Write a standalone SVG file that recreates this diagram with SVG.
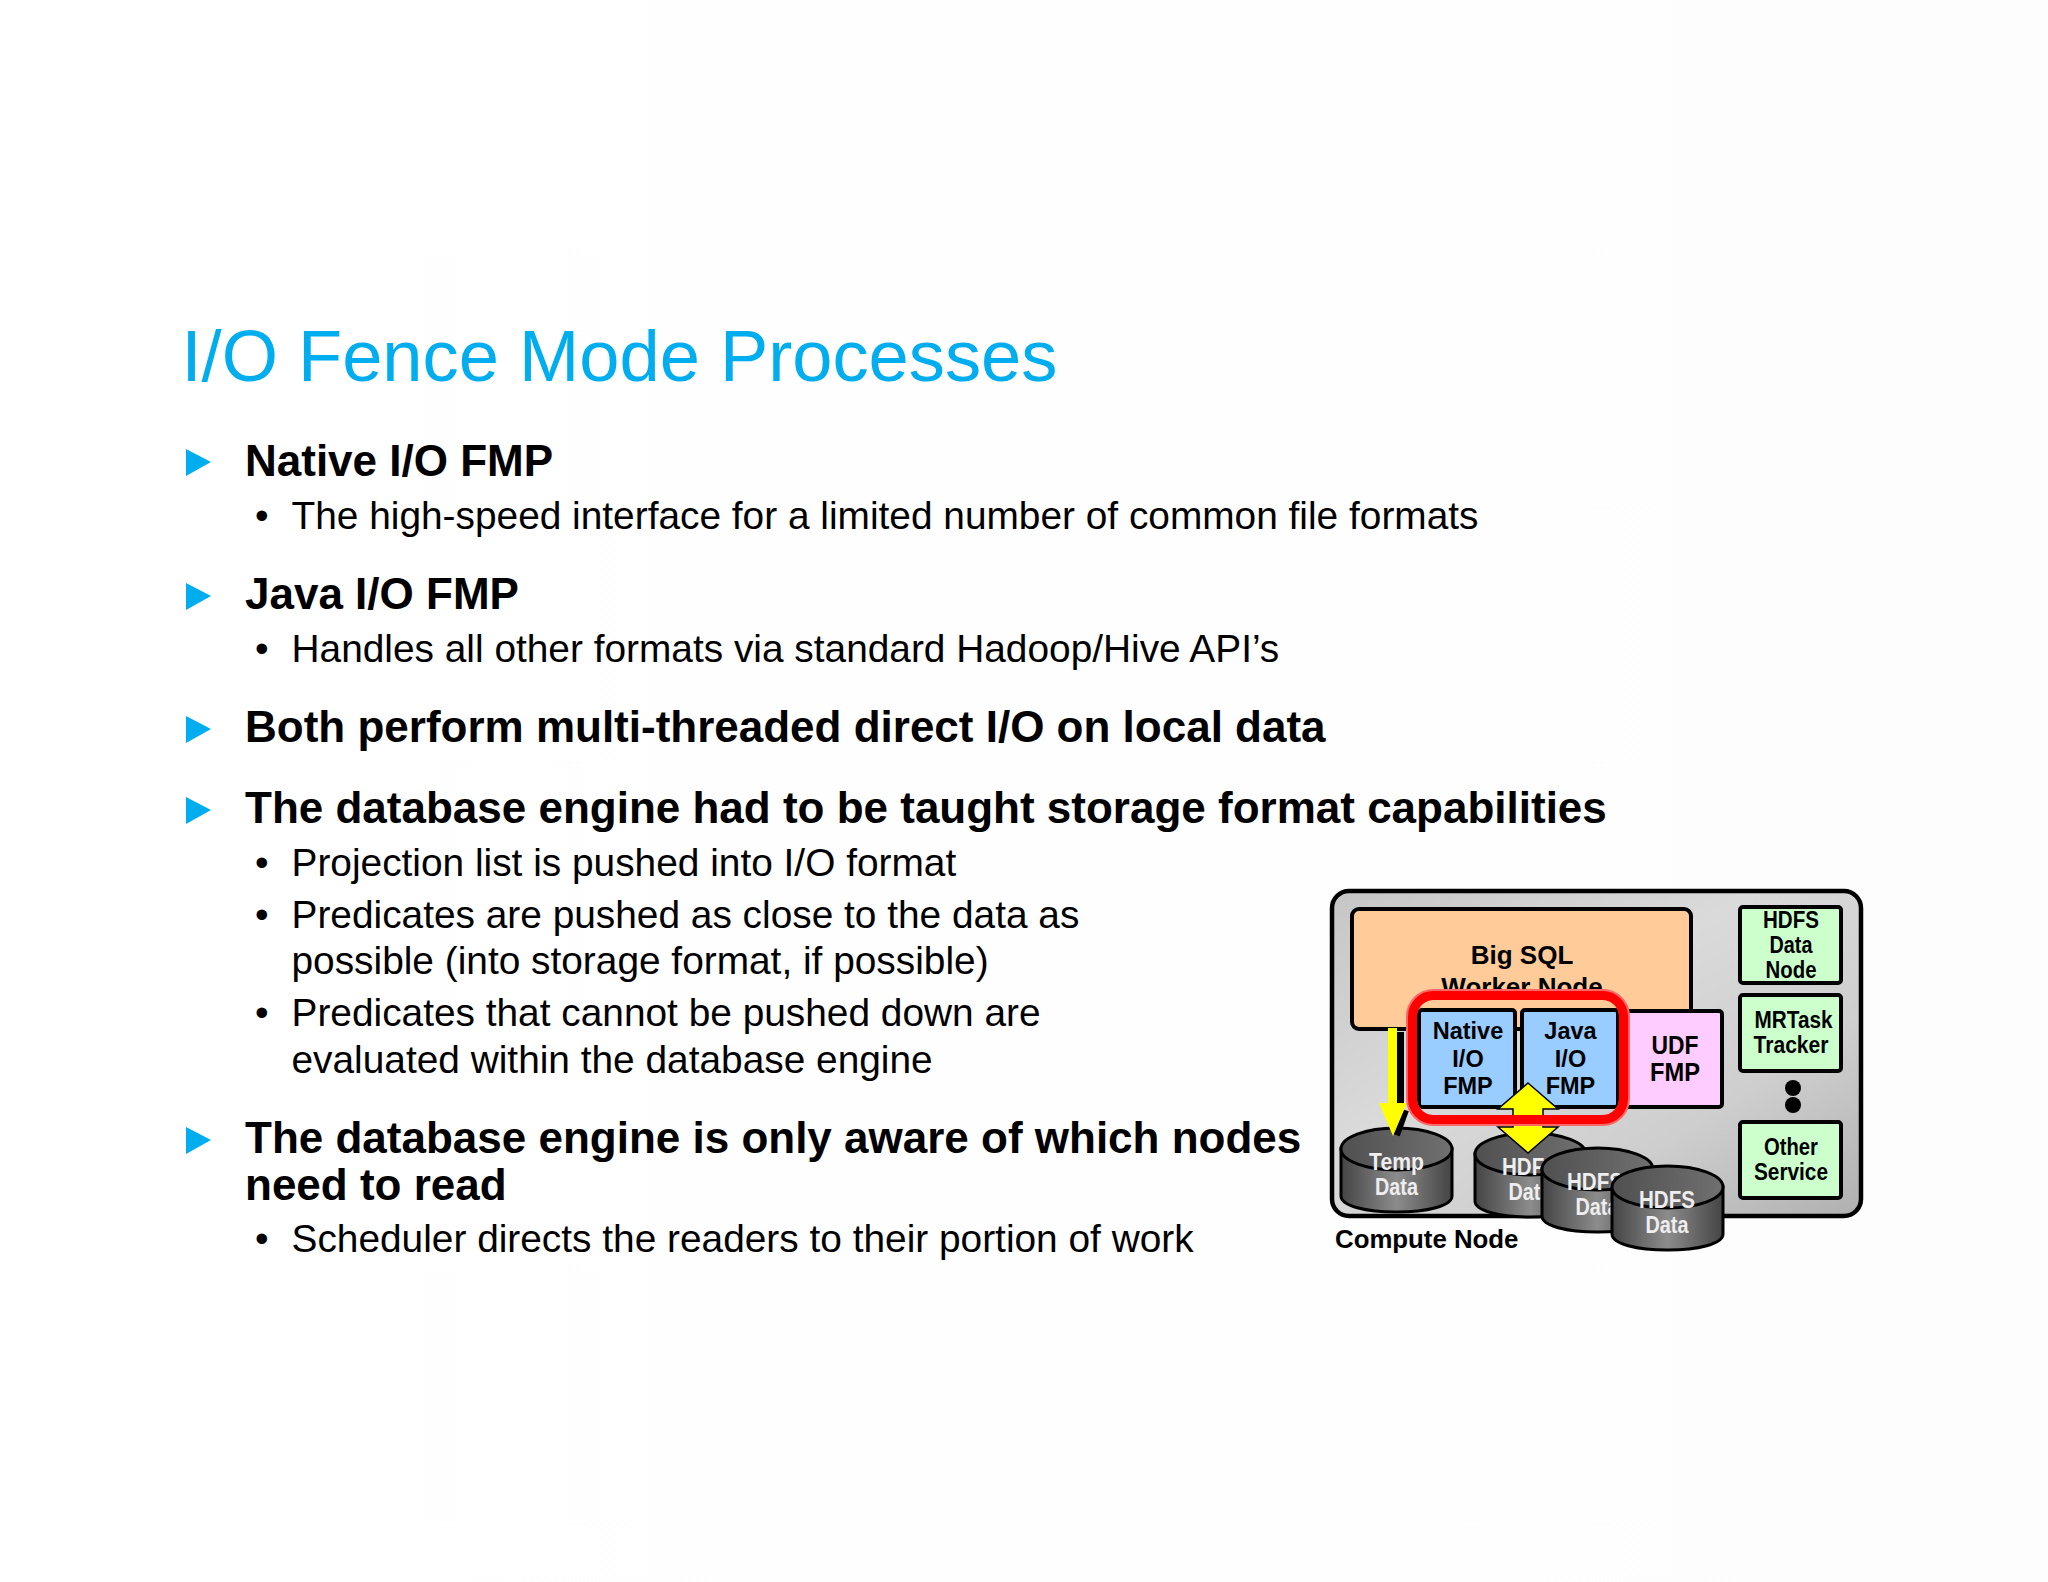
<svg xmlns="http://www.w3.org/2000/svg" width="2048" height="1582" viewBox="0 0 2048 1582">
<style>
text{font-family:"Liberation Sans",Arial,sans-serif;fill:#000}
.h{font-size:44px;font-weight:700}
.b{font-size:38.850px}
.t{font-size:72.300px;fill:#00adef}
.n{font-weight:700;font-size:23px;text-anchor:middle}
.f{font-size:23.500px}
.m{font-weight:700;font-size:25px;text-anchor:middle}
.s{font-size:26px}
.w{fill:#eee}
.box{stroke:#000;stroke-width:4}
.arrowb{fill:#00adef}
</style>
<defs>
<linearGradient id="bg" x1="0" y1="0" x2="1" y2="1"><stop offset="0" stop-color="#c6c6c6"/><stop offset="0.4" stop-color="#dadada"/><stop offset="0.7" stop-color="#cecece"/><stop offset="1" stop-color="#b0b0b0"/></linearGradient>
<linearGradient id="cy" x1="0" y1="0" x2="1" y2="0"><stop offset="0" stop-color="#444"/><stop offset="0.5" stop-color="#8c8c8c"/><stop offset="1" stop-color="#444"/></linearGradient>
<linearGradient id="cap" x1="0" y1="0" x2="1" y2="0"><stop offset="0" stop-color="#505050"/><stop offset="1" stop-color="#707070"/></linearGradient>
<linearGradient id="page" x1="0" y1="0" x2="1" y2="0"><stop offset="0" stop-color="#fff"/><stop offset="1" stop-color="#fdfdfd"/></linearGradient>
<symbol id="cyl" overflow="visible">
<path d="M0 21V68C0 78 25 84 55.500 84S111 78 111 68V21Z" fill="url(#cy)" stroke="#000" stroke-width="3"/>
<ellipse cx="55.500" cy="21" rx="55.500" ry="21" fill="url(#cap)" stroke="#000" stroke-width="3"/>
</symbol>
</defs>
<rect width="2048" height="1582" fill="url(#page)"/>
<g id="slide-text">
<text class="t" x="181.500" y="381">I/O Fence Mode Processes</text>
<g class="arrowb">
<path d="M186 449l25 13-25 14z"/><path d="M186 583l25 13-25 14z"/><path d="M186 716l25 13-25 14z"/><path d="M186 797l25 13-25 14z"/><path d="M186 1127l25 13-25 14z"/>
</g>
<text class="h" x="245" y="476">Native I/O FMP</text>
<text class="b" x="255" y="529">•</text><text class="b" x="291.500" y="529">The high-speed interface for a limited number of common file formats</text>
<text class="h" x="245" y="609">Java I/O FMP</text>
<text class="b" x="255" y="662">•</text><text class="b" x="291.500" y="662">Handles all other formats via standard Hadoop/Hive API’s</text>
<text class="h" x="245" y="742">Both perform multi-threaded direct I/O on local data</text>
<text class="h" x="245" y="823">The database engine had to be taught storage format capabilities</text>
<text class="b" x="255" y="876">•</text><text class="b" x="291.500" y="876">Projection list is pushed into I/O format</text>
<text class="b" x="255" y="928">•</text><text class="b" x="291.500" y="928">Predicates are pushed as close to the data as</text>
<text class="b" x="291.500" y="974">possible (into storage format, if possible)</text>
<text class="b" x="255" y="1026">•</text><text class="b" x="291.500" y="1026">Predicates that cannot be pushed down are</text>
<text class="b" x="291.500" y="1073">evaluated within the database engine</text>
<text class="h" x="245" y="1153">The database engine is only aware of which nodes</text>
<text class="h" x="245" y="1200">need to read</text>
<text class="b" x="255" y="1252">•</text><text class="b" x="291.500" y="1252">Scheduler directs the readers to their portion of work</text>
</g>
<g id="compute-node">
<rect x="1332" y="891" width="529" height="325" rx="17" fill="url(#bg)" stroke="#000" stroke-width="4.500"/>
<text class="m" x="1335" y="1248" style="text-anchor:start;font-size:25.800px">Compute Node</text>
</g>
<g id="big-sql">
<rect x="1352" y="909" width="339" height="120" rx="7" fill="#fc9" class="box"/>
<text class="n s" x="1522" y="964">Big SQL</text>
<text class="n s" x="1522" y="996">Worker Node</text>
</g>
<g id="hdfs-data-node"><rect x="1740" y="907" width="101" height="76" rx="3" fill="#cfc" class="box"/>
<text class="n" x="1791" y="928" textLength="56" lengthAdjust="spacingAndGlyphs">HDFS</text><text class="n" x="1791" y="953" textLength="43" lengthAdjust="spacingAndGlyphs">Data</text><text class="n" x="1791" y="978" textLength="51" lengthAdjust="spacingAndGlyphs">Node</text></g>
<g id="mrtask-tracker"><rect x="1740" y="995" width="101" height="76" rx="3" fill="#cfc" class="box"/>
<text class="n" x="1793.500" y="1028" textLength="78" lengthAdjust="spacingAndGlyphs">MRTask</text><text class="n" x="1791" y="1053" textLength="75" lengthAdjust="spacingAndGlyphs">Tracker</text></g>
<g id="dots"><circle cx="1793" cy="1088" r="8"/><circle cx="1793" cy="1105" r="8"/></g>
<g id="other-service"><rect x="1740" y="1122" width="101" height="76" rx="3" fill="#cfc" class="box"/>
<text class="n" x="1791" y="1155" textLength="54" lengthAdjust="spacingAndGlyphs">Other</text><text class="n" x="1791" y="1180" textLength="74" lengthAdjust="spacingAndGlyphs">Service</text></g>
<g id="udf-fmp"><rect x="1620" y="1011" width="102" height="96" rx="3" fill="#fcf" class="box"/>
<text class="m" x="1675" y="1054" textLength="47" lengthAdjust="spacingAndGlyphs">UDF</text><text class="m" x="1675" y="1081" textLength="50" lengthAdjust="spacingAndGlyphs">FMP</text></g>
<g id="temp-data"><use href="#cyl" x="1341" y="1128"/><text class="n w" x="1396.500" y="1170" textLength="55" lengthAdjust="spacingAndGlyphs">Temp</text><text class="n w" x="1396.500" y="1195" textLength="43" lengthAdjust="spacingAndGlyphs">Data</text></g>
<g id="hdfs-1"><use href="#cyl" x="1475" y="1133"/><text class="n w" x="1530" y="1175" textLength="56" lengthAdjust="spacingAndGlyphs">HDFS</text><text class="n w" x="1530" y="1200" textLength="43" lengthAdjust="spacingAndGlyphs">Data</text></g>
<g id="native-io"><rect x="1419" y="1010" width="96" height="97" rx="3" fill="#9cf" class="box"/>
<text class="n f" x="1468" y="1039">Native</text><text class="n f" x="1468" y="1067">I/O</text><text class="n f" x="1468" y="1094">FMP</text></g>
<g id="java-io"><rect x="1522" y="1010" width="96" height="97" rx="3" fill="#9cf" class="box"/>
<text class="n f" x="1570.500" y="1039">Java</text><text class="n f" x="1570.500" y="1067">I/O</text><text class="n f" x="1570.500" y="1094">FMP</text></g>
<g id="connectors">
<path d="M1397 1032h7v72h-7z"/>
<path d="M1405 1110l-9 25" stroke="#000" stroke-width="8" fill="none"/>
<path d="M1388 1028h9v75h10l-14 33-14-33h9z" fill="#ff0"/>
<path d="M1528 1083l30 26h-15v18h15l-30 26-30-26h15v-18h-15z" fill="#ff0" stroke="#000" stroke-width="1.500"/>
</g>
<g id="hdfs-2"><use href="#cyl" x="1542" y="1148"/><text class="n w" x="1595" y="1190" textLength="56" lengthAdjust="spacingAndGlyphs">HDFS</text><text class="n w" x="1597" y="1215" textLength="43" lengthAdjust="spacingAndGlyphs">Data</text></g>
<g id="hdfs-3"><use href="#cyl" x="1612" y="1166"/><text class="n w" x="1667" y="1208" textLength="56" lengthAdjust="spacingAndGlyphs">HDFS</text><text class="n w" x="1667" y="1233" textLength="43" lengthAdjust="spacingAndGlyphs">Data</text></g>
<g id="fence"><rect x="1411.500" y="994.500" width="213" height="126" rx="22" fill="none" stroke="#f66" stroke-width="11"/><rect x="1412.500" y="995.500" width="211" height="124" rx="21" fill="none" stroke="#f00" stroke-width="9"/></g>
</svg>
